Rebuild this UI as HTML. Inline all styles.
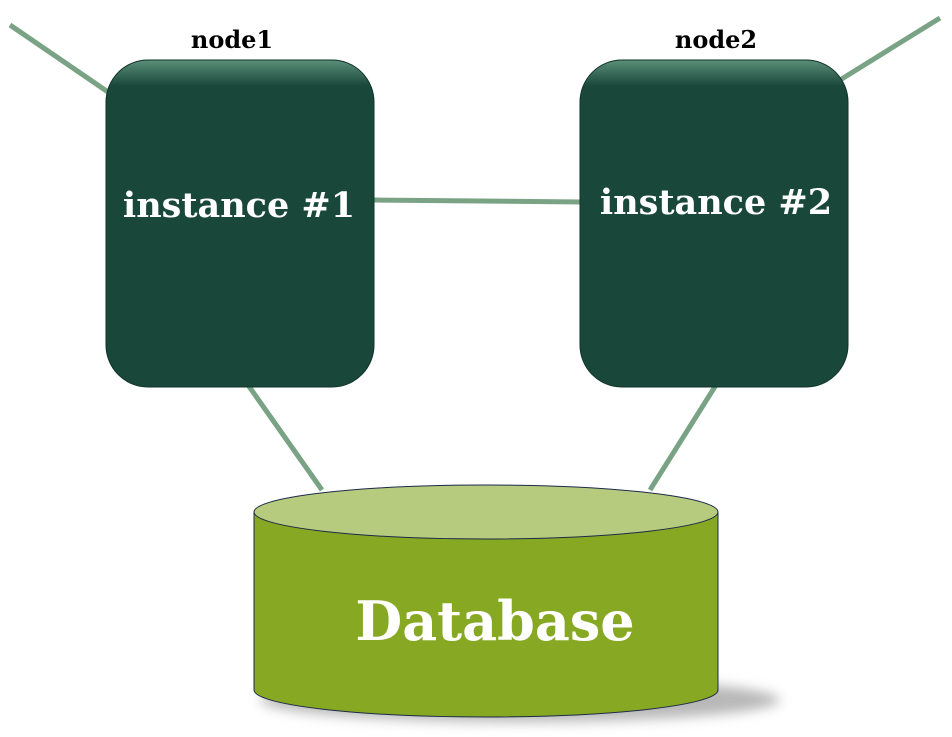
<!DOCTYPE html>
<html><head><meta charset="utf-8"><style>
html,body{margin:0;padding:0;background:#fff;width:952px;height:737px;overflow:hidden}
text{font-family:"DejaVu Serif","Liberation Serif",serif;font-weight:bold}
</style></head><body>
<svg width="952" height="737" viewBox="0 0 952 737" xmlns="http://www.w3.org/2000/svg">
<defs>
<linearGradient id="g" x1="0" y1="0" x2="0" y2="1">
<stop offset="0" stop-color="#5a8f78"/><stop offset="0.08" stop-color="#19473a"/><stop offset="1" stop-color="#19473a"/>
</linearGradient>
<filter id="sh" x="-20%" y="-20%" width="150%" height="150%"><feGaussianBlur stdDeviation="6"/></filter>
</defs>
<g stroke="#7aa386" stroke-width="5" fill="none">
<line x1="10" y1="25" x2="108" y2="92"/>
<line x1="840" y1="80" x2="940" y2="18"/>
<line x1="374" y1="200" x2="582" y2="202"/>
<line x1="248" y1="385" x2="322" y2="490"/>
<line x1="716" y1="385" x2="650" y2="490"/>
</g>
<rect x="106" y="60" width="268" height="327" rx="42" fill="url(#g)" stroke="#123328" stroke-width="1"/>
<rect x="580" y="60" width="268" height="327" rx="42" fill="url(#g)" stroke="#123328" stroke-width="1"/>
<text x="232" y="48" font-size="24" text-anchor="middle" fill="#000">node1</text>
<text x="716" y="48" font-size="24" text-anchor="middle" fill="#000">node2</text>
<text x="239" y="217" font-size="35" text-anchor="middle" fill="#fff">instance #1</text>
<text x="716" y="214" font-size="35" text-anchor="middle" fill="#fff">instance #2</text>
<ellipse cx="520" cy="700" rx="260" ry="22" fill="#888" opacity="0.6" filter="url(#sh)"/>
<path d="M254 512 L254 690 A232 27 0 0 0 718 690 L718 512 Z" fill="#87a822" stroke="#1c2a4a" stroke-width="1"/>
<ellipse cx="486" cy="512" rx="232" ry="27" fill="#b7cb7e" stroke="#1c2a4a" stroke-width="1"/>
<text x="495" y="640" font-size="54" text-anchor="middle" fill="#fff">Database</text>
</svg>
</body></html>
